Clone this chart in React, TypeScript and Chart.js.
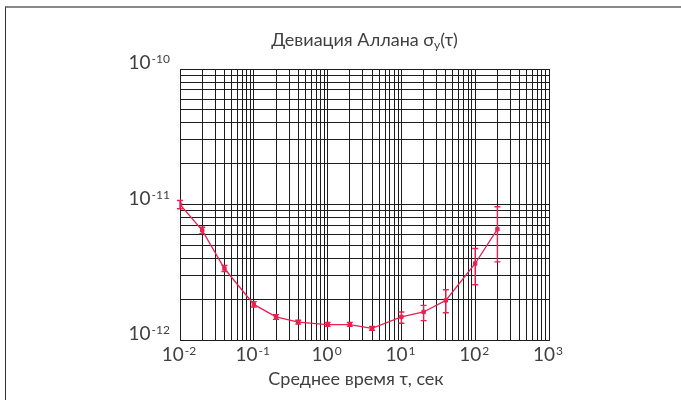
import React, { useEffect, useRef } from 'react';
import { Chart, registerables } from 'chart.js';

Chart.register(...registerables);

// ---- data ----
const tau = [0.01, 0.02, 0.04, 0.1, 0.2, 0.4, 1, 2, 4, 10, 20, 40, 100, 200];
const sigma = [1.0e-11, 6.45e-12, 3.37e-12, 1.83e-12, 1.48e-12, 1.355e-12, 1.3e-12, 1.3e-12, 1.22e-12, 1.48e-12, 1.61e-12, 1.96e-12, 3.67e-12, 6.58e-12];
const errLow = [9.3e-12, 6.1e-12, 3.2e-12, 1.75e-12, 1.42e-12, 1.31e-12, 1.26e-12, 1.26e-12, 1.18e-12, 1.33e-12, 1.39e-12, 1.59e-12, 2.56e-12, 3.77e-12];
const errHigh = [1.07e-11, 6.8e-12, 3.55e-12, 1.92e-12, 1.54e-12, 1.4e-12, 1.35e-12, 1.35e-12, 1.26e-12, 1.61e-12, 1.8e-12, 2.35e-12, 4.74e-12, 9.63e-12];

const xDecades = [-2, -1, 0, 1, 2, 3];
const yDecades = [-12, -11, -10];
const mantissas = [1, 2, 3, 4, 5, 6, 7, 8, 9];

const titleMain = 'Девиация Аллана σ';
const titleSub = 'y';
const titleTail = '(τ)';
const xTitle = 'Среднее время τ, сек';

const RED = '#e8214f';
const GRID = '#1c1c1c';
const TEXT = '#404040';
const FONT = 'Lato, "Open Sans", sans-serif';

function gridValues(decades: number[]) {
  const out: number[] = [];
  for (let i = 0; i < decades.length - 1; i++) {
    for (const m of mantissas) out.push(Number((m * Math.pow(10, decades[i])).toPrecision(3)));
  }
  out.push(Math.pow(10, decades[decades.length - 1]));
  return out;
}

const xGrid = gridValues(xDecades);
const yGrid = gridValues(yDecades);

const errorBarPlugin = {
  id: 'errorBars',
  afterDatasetsDraw(chart: any) {
    const { ctx } = chart;
    const xs = chart.scales.x;
    const ys = chart.scales.y;
    ctx.save();
    ctx.strokeStyle = RED;
    ctx.lineWidth = 1.4;
    tau.forEach((t, i) => {
      const px = xs.getPixelForValue(t);
      const y1 = ys.getPixelForValue(errLow[i]);
      const y2 = ys.getPixelForValue(errHigh[i]);
      ctx.beginPath();
      ctx.moveTo(px, y1);
      ctx.lineTo(px, y2);
      ctx.moveTo(px - 3, y1);
      ctx.lineTo(px + 3, y1);
      ctx.moveTo(px - 3, y2);
      ctx.lineTo(px + 3, y2);
      ctx.stroke();
    });
    ctx.restore();
  },
};

const labelsPlugin = {
  id: 'powLabels',
  afterDraw(chart: any) {
    const { ctx, chartArea } = chart;
    const xs = chart.scales.x;
    const ys = chart.scales.y;
    const big = `400 19px ${FONT}`;
    const small = `400 12px ${FONT}`;
    ctx.save();
    ctx.fillStyle = TEXT;
    ctx.textBaseline = 'alphabetic';

    // x tick labels
    xDecades.forEach((d) => {
      const px = xs.getPixelForValue(Math.pow(10, d));
      const exp = d < 0 ? '-' + Math.abs(d) : String(d);
      ctx.font = big;
      const wb = ctx.measureText('10').width;
      ctx.font = small;
      const ws = ctx.measureText(exp).width;
      const total = wb + ws + 1;
      const x0 = px - total / 2 - 1;
      const base = chartArea.bottom + 21;
      ctx.textAlign = 'left';
      ctx.font = big;
      ctx.fillText('10', x0, base);
      ctx.font = small;
      ctx.fillText(exp, x0 + wb + 1, base - 6);
    });

    // y tick labels
    yDecades.forEach((d) => {
      const py = ys.getPixelForValue(Math.pow(10, d));
      const exp = '-' + Math.abs(d);
      const right = chartArea.left - 10;
      ctx.font = small;
      const ws = ctx.measureText(exp).width;
      ctx.textAlign = 'right';
      ctx.fillText(exp, right, py - 6);
      ctx.font = big;
      ctx.fillText('10', right - ws - 1, py + 0);
    });

    // title
    const tf = `400 18px ${FONT}`;
    const tfs = `400 12px ${FONT}`;
    ctx.font = tf;
    const w1 = ctx.measureText(titleMain).width;
    const w3 = ctx.measureText(titleTail).width;
    ctx.font = tfs;
    const w2 = ctx.measureText(titleSub).width;
    const tw = w1 + w2 + w3;
    let tx = (chartArea.left + chartArea.right) / 2 - tw / 2;
    const tb = 46;
    ctx.textAlign = 'left';
    ctx.font = tf;
    ctx.fillText(titleMain, tx, tb);
    tx += w1;
    ctx.font = tfs;
    ctx.fillText(titleSub, tx, tb + 3);
    tx += w2;
    ctx.font = tf;
    ctx.fillText(titleTail, tx, tb);

    // x axis title
    ctx.font = `400 18px ${FONT}`;
    ctx.textAlign = 'center';
    ctx.fillText(xTitle, 356, 385);
    ctx.restore();
  },
};

export default function App() {
  const ref = useRef<HTMLCanvasElement | null>(null);

  useEffect(() => {
    document.body.style.margin = '0';
    const canvas = ref.current;
    if (!canvas) return;
    const chart = new Chart(canvas, {
      type: 'line',
      data: {
        datasets: [
          {
            data: tau.map((t, i) => ({ x: t, y: sigma[i] })),
            borderColor: RED,
            backgroundColor: RED,
            borderWidth: 1.3,
            pointRadius: 2.4,
            pointStyle: 'rect',
            pointBorderWidth: 1,
            tension: 0,
          },
        ],
      },
      options: {
        animation: false,
        responsive: false,
        maintainAspectRatio: false,
        layout: { padding: { left: 180, top: 69, right: 132, bottom: 60 } },
        plugins: { legend: { display: false }, tooltip: { enabled: false }, title: { display: false } },
        scales: {
          x: {
            type: 'logarithmic',
            min: 0.01,
            max: 1000,
            afterBuildTicks: (s: any) => {
              s.ticks = xGrid.map((v) => ({ value: v }));
            },
            ticks: { display: false },
            grid: { color: GRID, lineWidth: 1, drawTicks: false },
            border: { display: true, color: GRID, width: 1 },
          },
          y: {
            type: 'logarithmic',
            min: 1e-12,
            max: 1e-10,
            afterBuildTicks: (s: any) => {
              s.ticks = yGrid.map((v) => ({ value: v }));
            },
            ticks: { display: false },
            grid: { color: GRID, lineWidth: 1, drawTicks: false },
            border: { display: true, color: GRID, width: 1 },
          },
        },
      },
      plugins: [errorBarPlugin, labelsPlugin],
    } as any);
    return () => chart.destroy();
  }, []);

  return (
    <div style={{ position: 'relative', width: 681, height: 400, overflow: 'hidden', background: '#fff' }}>
      <div
        style={{
          position: 'absolute',
          left: 5,
          top: 6,
          width: 700,
          height: 420,
          borderTop: '2px solid #888',
          borderLeft: '1px solid #333',
        }}
      />
      <canvas ref={ref} width={681} height={400} style={{ position: 'absolute', left: 0, top: 0 }} />
    </div>
  );
}
